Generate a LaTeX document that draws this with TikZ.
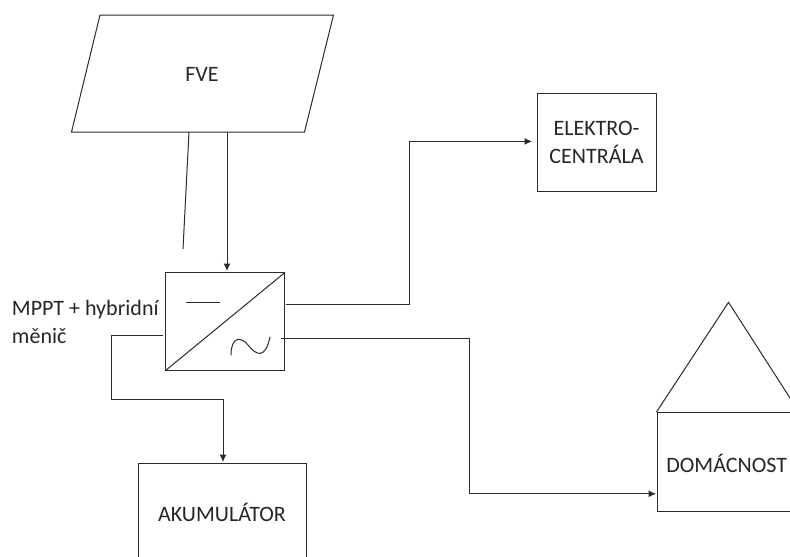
\documentclass[tikz,border=0pt]{standalone}
\usepackage{fontspec}
\setmainfont{Carlito}
\usetikzlibrary{arrows.meta}
\definecolor{textgray}{HTML}{262626}
\definecolor{linegray}{HTML}{2B2B2B}
\begin{document}
\begin{tikzpicture}[
  x=1pt, y=-1pt,
  line width=1pt,
  every node/.style={font=\fontsize{22pt}{28pt}\selectfont, text=textgray, align=center, inner sep=0pt},
  box/.style={draw=linegray, fill=white},
  outline/.style={draw=linegray, line join=miter},
  arrow/.style={-{Latex[length=7.5pt,width=7pt]}, draw=linegray},
  link/.style={draw=linegray}
]
\useasboundingbox (0,0) rectangle (790,557);
\clip (0,0) rectangle (790,557);
% panel
\draw[outline] (100,15) -- (333.5,15) -- (304.5,132) -- (71.5,132) -- cycle;
\node (fve) at (202,74) {FVE};
\coordinate (fveneg) at (189,132);
\coordinate (fvepos) at (227,132);
\coordinate (negend) at (183,249);
% converter
\node (conv) [box, minimum width=119pt, minimum height=97.5pt] at (225,321.7) {};
\draw[outline] (conv.south west) -- (conv.north east);
\coordinate (minusa) at (186,302);
\coordinate (minusb) at (220,302);
\draw[link] (minusa) -- (minusb);
\draw[link, line cap=round] (231,355) .. controls (231,338) and (240,335) .. (248,345)
  .. controls (256,355) and (265,360) .. (270,337);
\node (mppt) at (11.5,322) [anchor=west, align=left] {MPPT + hybridní\\měnič};
% targets
\node (elektro) [box, minimum width=119pt, minimum height=98pt] at (596.5,142) {ELEKTRO-\\CENTRÁLA};
\node (home) [box, minimum width=143pt, minimum height=99pt] at (728.5,462) {};
\node (hometext) at (726.7,463) {DOMÁCNOST};
\draw[outline] (home.north west) -- (728.5,302.3) -- (799,412);
\node (akum) [box, minimum width=168pt, minimum height=120pt] at (222.3,523) {};
\node (akumtext) at (222,512) {AKUMULÁTOR};
% connectors
\coordinate (convin) at (227,271);
\coordinate (convdc) at (285.7,304);
\coordinate (convac) at (280.7,338.7);
\coordinate (convbat) at (162.7,335);
\coordinate (akumin) at (223,462);
\coordinate (homein) at (656,493.8);
\draw[link] (fveneg) -- (negend);
\draw[arrow] (fvepos) -- (convin);
\draw[arrow] (convdc) -- (409,304) |- (532,141.4) coordinate (elektroin);
\draw[arrow] (convac) -- (469,338.7) |- (homein);
\draw[arrow] (convbat) -- (111.3,335) -- (111.3,399) -| (akumin);
\end{tikzpicture}
\end{document}
